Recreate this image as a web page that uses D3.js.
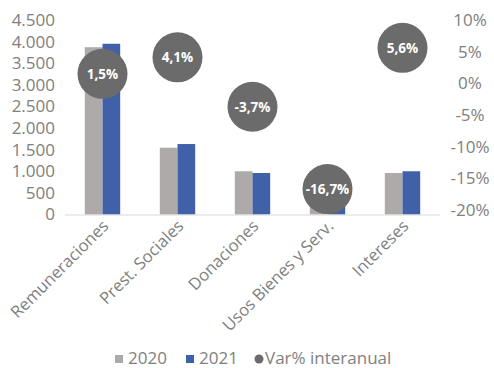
<!DOCTYPE html>
<html>
<head>
<meta charset="utf-8">
<script src="https://cdn.jsdelivr.net/npm/d3@7"></script>
<style>
  body { margin: 0; background: #fff; }
  svg { display: block; font-family: "Open Sans", sans-serif; }
</style>
</head>
<body>
<svg id="chart" width="494" height="368"></svg>
<script>
// data
const categories = ["Remuneraciones", "Prest. Sociales", "Donaciones", "Usos Bienes y Serv.", "Intereses"];
const series = ["2020", "2021"];
const values2020 = [3870, 1545, 1000, 300, 960];
const values2021 = [3950, 1630, 960, 250, 1000];
const varPct = [1.5, 4.1, -3.7, -16.7, 5.6];
const leftTicks = [0, 500, 1000, 1500, 2000, 2500, 3000, 3500, 4000, 4500];
const rightTicks = [-20, -15, -10, -5, 0, 5, 10];

const colors = { "2020": "#aeaaaa", "2021": "#4060a8" };
const dotColor = "#6b6b6b";
const textColor = "#808080";

const svg = d3.select("#chart");

const x = d3.scaleBand().domain(categories).range([65, 440]);
const xInner = d3.scaleBand().domain(series).range([-17.7, 17.7]);
const yLeft = d3.scaleLinear().domain([0, 4500]).range([214.5, 20]);
const yRight = d3.scaleLinear().domain([-20, 10]).range([210, 20]);

const fmtLeft = d3.formatLocale({ decimal: ",", thousands: ".", grouping: [3] }).format(",");
// excel style: comma decimal, plain hyphen for negatives
const fmtPct = d => String(d).replace(".", ",") + "%";

// left axis
const left = svg.append("g")
  .attr("transform", "translate(56,0)")
  .call(d3.axisLeft(yLeft).tickValues(leftTicks).tickFormat(fmtLeft).tickSize(0).tickPadding(1));
left.select(".domain").remove();
left.selectAll("text").attr("fill", textColor).attr("font-size", 17).attr("font-family", "Open Sans");

// right axis
const right = svg.append("g")
  .attr("transform", "translate(470,0)")
  .call(d3.axisRight(yRight).tickValues(rightTicks).tickFormat(fmtPct).tickSize(0).tickPadding(0));
right.select(".domain").remove();
right.selectAll("text").attr("fill", textColor).attr("font-size", 17)
  .attr("font-family", "Open Sans").attr("text-anchor", "middle").attr("x", 0);

// bars
const rows = categories.map((c, i) => ({ cat: c, "2020": values2020[i], "2021": values2021[i], pct: varPct[i] }));

svg.append("g").selectAll("g")
  .data(rows)
  .join("g")
  .attr("transform", d => `translate(${x(d.cat) + x.bandwidth() / 2},0)`)
  .selectAll("rect")
  .data(d => series.map(s => ({ s, v: d[s] })))
  .join("rect")
  .attr("x", d => xInner(d.s))
  .attr("width", xInner.bandwidth())
  .attr("y", d => yLeft(d.v))
  .attr("height", d => yLeft(0) - yLeft(d.v))
  .attr("fill", d => colors[d.s]);

// baseline
svg.append("line")
  .attr("x1", 65).attr("x2", 440)
  .attr("y1", yLeft(0) + 0.5).attr("y2", yLeft(0) + 0.5)
  .attr("stroke", "#d9d9d9").attr("stroke-width", 1);

// category labels
svg.append("g").selectAll("text")
  .data(categories)
  .join("text")
  .attr("transform", d => `translate(${x(d) + x.bandwidth() / 2 + 3},223) rotate(-45)`)
  .attr("text-anchor", "end")
  .attr("dy", "0.35em")
  .attr("font-size", 16.6)
  .attr("fill", textColor)
  .text(d => d);

// variation markers
const dots = svg.append("g").selectAll("g")
  .data(rows)
  .join("g")
  .attr("transform", d => `translate(${x(d.cat) + x.bandwidth() / 2},${yRight(d.pct)})`);
dots.append("circle").attr("r", 25).attr("fill", dotColor);
dots.append("text")
  .attr("text-anchor", "middle")
  .attr("dy", "0.35em")
  .attr("font-size", 13.5)
  .attr("font-weight", "bold")
  .attr("fill", "#fff")
  .text(d => fmtPct(d.pct));

// legend
const legend = svg.append("g").attr("transform", "translate(0,358)");
legend.append("rect").attr("x", 115).attr("y", -3).attr("width", 8).attr("height", 8).attr("fill", colors["2020"]);
legend.append("text").attr("x", 128).attr("dy", "0.35em").attr("font-size", 17).attr("fill", textColor).text("2020");
legend.append("rect").attr("x", 186).attr("y", -3).attr("width", 8).attr("height", 8).attr("fill", colors["2021"]);
legend.append("text").attr("x", 199).attr("dy", "0.35em").attr("font-size", 17).attr("fill", textColor).text("2021");
legend.append("circle").attr("cx", 259).attr("cy", 1).attr("r", 4.5).attr("fill", dotColor);
legend.append("text").attr("x", 265).attr("dy", "0.35em").attr("font-size", 17).attr("fill", textColor).text("Var% interanual");
</script>
</body>
</html>
